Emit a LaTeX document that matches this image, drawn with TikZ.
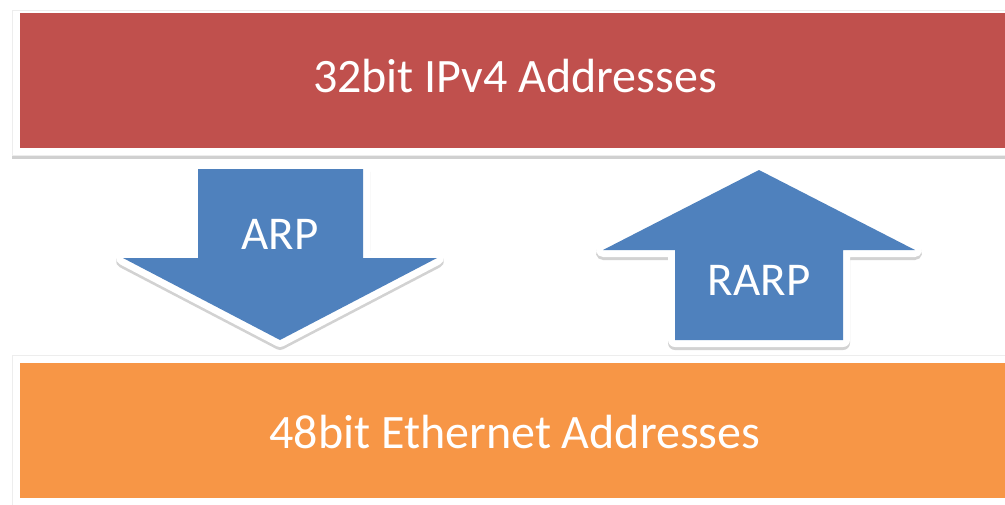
\documentclass[tikz,border=0pt]{standalone}
\usepackage{fontspec}
\setmainfont{Carlito}
\usetikzlibrary{shadows}
\definecolor{barred}{HTML}{C0504D}
\definecolor{barorange}{HTML}{F79646}
\definecolor{arrowblue}{HTML}{4F81BD}
\tikzset{
  frame/.style={fill=white, draw=black!7, line width=0.8pt, drop shadow={shadow xshift=0pt, shadow yshift=-4pt, opacity=0.3, fill=black!60}},
  arrowshape/.style={fill=arrowblue, line join=round,
    preaction={draw=black!50, opacity=0.35, line width=14pt, line join=round, transform canvas={yshift=-3pt}},
    preaction={draw=white, line width=14pt, line join=round}},
  bartext/.style={text=white, font=\fontsize{48}{56}\selectfont, anchor=base},
  arrowtext/.style={text=white, font=\fontsize{47}{56}\selectfont, anchor=base}
}
\begin{document}
\begin{tikzpicture}[x=1pt,y=-1pt]
\useasboundingbox (0,0) rectangle (1005,504);
\fill[white] (0,0) rectangle (1005,504);
% top bar
\path[frame] (12,10) rectangle (1015,155);
\fill[barred] (20,13) rectangle (1015,148);
\node[bartext] (ipv4) at (515,92) {32bit IPv4 Addresses};
% bottom bar
\path[frame] (12,355) rectangle (1015,510);
\fill[barorange] (20,363) rectangle (1015,498);
\node[bartext] (eth) at (515,448) {48bit Ethernet Addresses};
% ARP arrow (down)
\path[arrowshape] (198,169) -- (363,169) -- (363,258) -- (437,258) -- (280,340) -- (123,258) -- (198,258) -- cycle;
\node[arrowtext] (arp) at (280,249) {ARP};
% RARP arrow (up)
\path[arrowshape] (759,170) -- (915,250) -- (843,250) -- (843,340) -- (675,340) -- (675,250) -- (603,250) -- cycle;
\node[arrowtext] (rarp) at (759,295) {RARP};
\end{tikzpicture}
\end{document}
